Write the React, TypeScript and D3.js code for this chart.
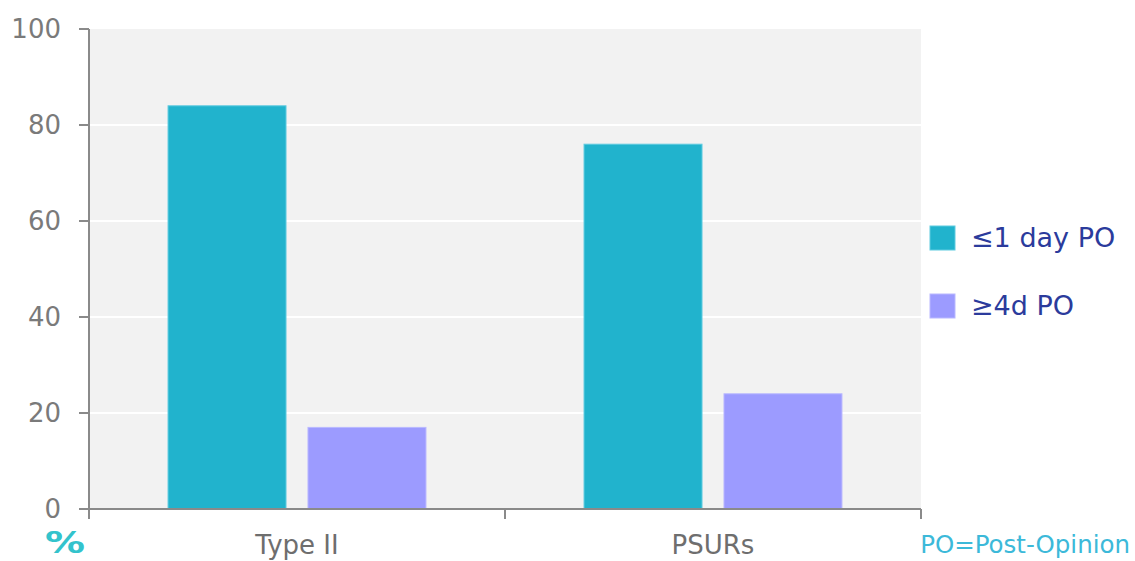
import React from "react";
import * as d3 from "d3";

const categories = ["Type II", "PSURs"];
const seriesNames = ["≤1 day PO", "≥4d PO"];
const seriesColors = ["#21b3cd", "#9c9bff"];
const seriesStrokes = ["#5fcbe0", "#b9b8ff"];
const values: number[][] = [
  [84, 17],
  [76, 24],
];
const yTicks = [0, 20, 40, 60, 80, 100];

const W = 1135;
const H = 561;
const left = 89;
const right = 921;
const top = 29;
const bottom = 509;
const font = "'DejaVu Sans', Verdana, sans-serif";

export default function App() {
  const y = d3.scaleLinear().domain([0, 100]).range([bottom, top]);
  const x0 = d3.scaleBand<string>().domain(categories).range([left, right]).padding(0);
  const bw = x0.bandwidth();
  const x1 = d3
    .scaleBand<string>()
    .domain(seriesNames)
    .range([bw * 0.19, bw * 0.81])
    .paddingInner(0.157)
    .paddingOuter(0);

  return (
    <svg
      width={W}
      height={H}
      style={{ position: "absolute", left: 0, top: 0, background: "#fff" }}
    >
      <rect x={left} y={top} width={right - left} height={bottom - top} fill="#f2f2f2" />
      {yTicks
        .filter((t) => t > 0 && t < 100)
        .map((t) => (
          <line key={t} x1={left} x2={right} y1={y(t)} y2={y(t)} stroke="#ffffff" strokeWidth={2} />
        ))}
      {categories.map((c, ci) =>
        seriesNames.map((s, si) => (
          <rect
            key={c + s}
            x={(x0(c) ?? 0) + (x1(s) ?? 0)}
            y={y(values[ci][si])}
            width={x1.bandwidth()}
            height={bottom - y(values[ci][si])}
            fill={seriesColors[si]}
            stroke={seriesStrokes[si]}
            strokeWidth={1}
          />
        ))
      )}
      {/* y axis */}
      <line x1={left} x2={left} y1={top} y2={bottom} stroke="#8a8a8a" strokeWidth={2} />
      {yTicks.map((t) => (
        <g key={t}>
          <line x1={left - 10} x2={left} y1={y(t)} y2={y(t)} stroke="#8a8a8a" strokeWidth={2} />
          <text
            x={61}
            y={y(t)}
            dy="0.36em"
            textAnchor="end"
            fontFamily={font}
            fontSize={26}
            fill="#7a7a7a"
          >
            {t}
          </text>
        </g>
      ))}
      {/* x axis */}
      <line x1={left} x2={right} y1={bottom} y2={bottom} stroke="#8a8a8a" strokeWidth={2} />
      {[left, ...categories.map((c) => (x0(c) ?? 0) + bw)].map((px, i) => (
        <line key={i} x1={px} x2={px} y1={bottom} y2={bottom + 10} stroke="#8a8a8a" strokeWidth={2} />
      ))}
      {categories.map((c) => (
        <text
          key={c}
          x={(x0(c) ?? 0) + bw / 2}
          y={554}
          textAnchor="middle"
          fontFamily={font}
          fontSize={26}
          fill="#6e6e6e"
        >
          {c}
        </text>
      ))}
      {/* legend */}
      {seriesNames.map((s, i) => (
        <g key={s} transform={`translate(930, ${226 + i * 68})`}>
          <rect width={25} height={24} fill={seriesColors[i]} stroke={seriesStrokes[i]} strokeWidth={1} />
          <text x={41} y={21} fontFamily={font} fontSize={27} fill="#2b3b9c">
            {s}
          </text>
        </g>
      ))}
      <text
        x={45}
        y={553}
        fontFamily={font}
        fontSize={30}
        fontWeight="bold"
        fill="#33c3cc"
        textLength={40}
        lengthAdjust="spacingAndGlyphs"
      >
        %
      </text>
      <text x={1130} y={553} textAnchor="end" fontFamily={font} fontSize={24.5} fill="#3cb9d9">
        PO=Post-Opinion
      </text>
    </svg>
  );
}
